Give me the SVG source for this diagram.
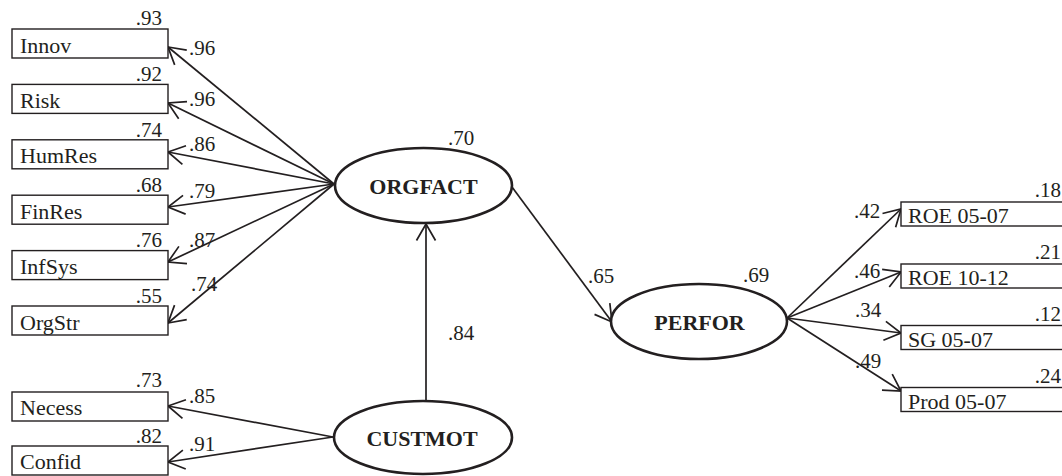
<svg xmlns="http://www.w3.org/2000/svg" width="1062" height="476" viewBox="0 0 1062 476" font-family="'Liberation Serif', 'DejaVu Serif', 'Times New Roman', serif">
<defs>
<style>
text{font-family:'Liberation Serif','DejaVu Serif','Times New Roman',serif;fill:#231f20}
.box{fill:#fff;stroke:#231f20;stroke-width:1.4}
.lat{fill:#fff;stroke:#231f20;stroke-width:2.6}
.bt{font-size:22px}
.num{font-size:21px}
.lt{font-size:22px;font-weight:bold;text-anchor:middle}
.end{text-anchor:end}
#edges line{stroke:#231f20;stroke-width:1.7;fill:none;marker-end:url(#ah)}
</style>
<marker id="ah" markerUnits="userSpaceOnUse" markerWidth="22" markerHeight="22" viewBox="-19 -11 21 22" refX="0" refY="0" orient="auto" overflow="visible">
<path d="M-16.5,-9.5 L0,0 L-16.5,9.5" fill="none" stroke="#231f20" stroke-width="1.7"/>
</marker>
</defs>
<rect width="1062" height="476" fill="#fff"/>

<g id="edges">
<line x1="334" y1="184" x2="168" y2="47"/>
<line x1="334" y1="184" x2="168" y2="103"/>
<line x1="334" y1="184" x2="168" y2="152"/>
<line x1="334" y1="184" x2="168" y2="207"/>
<line x1="334" y1="184" x2="168" y2="262"/>
<line x1="334" y1="184" x2="168" y2="323"/>
<line x1="333" y1="437" x2="168" y2="406"/>
<line x1="333" y1="437" x2="168" y2="462"/>
<line x1="426" y1="401" x2="426" y2="224"/>
<line x1="512" y1="187" x2="612" y2="322"/>
<line x1="787" y1="318" x2="901" y2="209"/>
<line x1="787" y1="318" x2="901" y2="272"/>
<line x1="787" y1="318" x2="901" y2="333"/>
<line x1="787" y1="318" x2="901" y2="391"/>
</g>

<g id="edge-labels" class="num" font-family="'Liberation Serif', serif" font-size="21">
<text x="189" y="55">.96</text>
<text x="189" y="106">.96</text>
<text x="189" y="151">.86</text>
<text x="189" y="198">.79</text>
<text x="189" y="247">.87</text>
<text x="191" y="291">.74</text>
<text x="189" y="403">.85</text>
<text x="189" y="451">.91</text>
<text x="448" y="340">.84</text>
<text x="588" y="283">.65</text>
<text x="854" y="218">.42</text>
<text x="854" y="278">.46</text>
<text x="855" y="317">.34</text>
<text x="855" y="368">.49</text>
</g>

<g id="Innov"><rect class="box" x="12" y="29" width="156" height="29"/><text class="bt" x="20" y="52.5">Innov</text><text class="num end" x="162" y="25">.93</text></g>
<g id="Risk"><rect class="box" x="12" y="84.4" width="156" height="29"/><text class="bt" x="20" y="107.9">Risk</text><text class="num end" x="162" y="81">.92</text></g>
<g id="HumRes"><rect class="box" x="12" y="139.8" width="156" height="29"/><text class="bt" x="20" y="163.3">HumRes</text><text class="num end" x="162" y="137">.74</text></g>
<g id="FinRes"><rect class="box" x="12" y="195.2" width="156" height="29"/><text class="bt" x="20" y="218.7">FinRes</text><text class="num end" x="162" y="192">.68</text></g>
<g id="InfSys"><rect class="box" x="12" y="250.6" width="156" height="29"/><text class="bt" x="20" y="274.1">InfSys</text><text class="num end" x="162" y="247">.76</text></g>
<g id="OrgStr"><rect class="box" x="12" y="306" width="156" height="29"/><text class="bt" x="20" y="329.5">OrgStr</text><text class="num end" x="162" y="303">.55</text></g>
<g id="Necess"><rect class="box" x="12" y="392" width="156" height="29"/><text class="bt" x="20" y="415">Necess</text><text class="num end" x="162" y="387">.73</text></g>
<g id="Confid"><rect class="box" x="12" y="446" width="156" height="29"/><text class="bt" x="20" y="469">Confid</text><text class="num end" x="162" y="443">.82</text></g>

<g id="ORGFACT"><ellipse class="lat" cx="423.5" cy="185.5" rx="88.5" ry="37.5"/><text class="lt" x="423.5" y="193.5">ORGFACT</text><text class="num" x="448" y="145">.70</text></g>
<g id="CUSTMOT"><ellipse class="lat" cx="423" cy="437.5" rx="89" ry="36.5"/><text class="lt" x="422" y="445.5">CUSTMOT</text></g>
<g id="PERFOR"><ellipse class="lat" cx="699" cy="321.5" rx="88" ry="37.5"/><text class="lt" x="699.5" y="330">PERFOR</text><text class="num" x="743" y="282">.69</text></g>

<g id="ROE0507"><rect class="box" x="901" y="202" width="170" height="24"/><text class="bt" x="908" y="223">ROE 05-07</text><text class="num end" x="1061" y="197">.18</text></g>
<g id="ROE1012"><rect class="box" x="901" y="264" width="170" height="24"/><text class="bt" x="908" y="285">ROE 10-12</text><text class="num end" x="1061" y="259">.21</text></g>
<g id="SG0507"><rect class="box" x="901" y="325.5" width="170" height="24"/><text class="bt" x="908" y="346.5">SG 05-07</text><text class="num end" x="1061" y="321">.12</text></g>
<g id="Prod0507"><rect class="box" x="901" y="387.5" width="170" height="24"/><text class="bt" x="908" y="408.5">Prod 05-07</text><text class="num end" x="1061" y="383">.24</text></g>
</svg>
